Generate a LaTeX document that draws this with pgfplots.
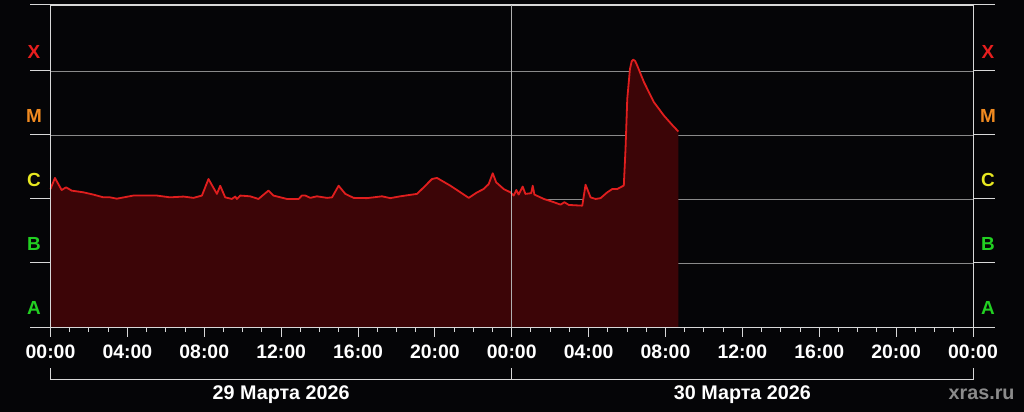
\documentclass[border=0pt]{standalone}
\usepackage{pgfplots}
\pgfplotsset{compat=1.18}
\usepackage{pgfplotstable}
\usepackage{fontspec}
\setmainfont{Liberation Sans}
\usetikzlibrary{backgrounds}
\definecolor{bg}{HTML}{050507}
\definecolor{fillred}{HTML}{3C0507}
\definecolor{linered}{HTML}{E01E1E}
\definecolor{gridgray}{HTML}{8A8A8A}
\definecolor{axwhite}{HTML}{D8D8D8}
\definecolor{midgray}{HTML}{B0B0B0}
\definecolor{labgreen}{HTML}{22D022}
\definecolor{labyellow}{HTML}{E8E820}
\definecolor{laborange}{HTML}{F08A20}
\definecolor{labred}{HTML}{E81E1E}
\definecolor{wmgray}{HTML}{8C8C8C}

\pgfplotstableread{
h flux
0.00 1.43e-6
0.23 2.13e-6
0.58 1.38e-6
0.81 1.52e-6
1.10 1.35e-6
1.71 1.27e-6
2.23 1.17e-6
2.75 1.06e-6
3.10 1.06e-6
3.45 1.01e-6
4.31 1.13e-6
5.53 1.13e-6
6.22 1.06e-6
6.92 1.09e-6
7.44 1.04e-6
7.88 1.13e-6
8.22 2.05e-6
8.66 1.20e-6
8.83 1.61e-6
9.09 1.06e-6
9.44 1.00e-6
9.61 1.09e-6
9.70 1.00e-6
9.87 1.13e-6
10.39 1.10e-6
10.82 1.00e-6
11.34 1.35e-6
11.60 1.13e-6
12.30 1.00e-6
12.91 1.00e-6
13.08 1.13e-6
13.26 1.13e-6
13.52 1.04e-6
13.86 1.10e-6
14.39 1.04e-6
14.65 1.06e-6
14.99 1.61e-6
15.34 1.20e-6
15.77 1.04e-6
16.47 1.03e-6
17.25 1.10e-6
17.68 1.03e-6
18.20 1.10e-6
19.07 1.20e-6
19.42 1.52e-6
19.85 2.05e-6
20.11 2.13e-6
20.81 1.61e-6
21.76 1.04e-6
22.20 1.27e-6
22.54 1.43e-6
22.80 1.71e-6
23.01 2.52e-6
23.19 1.82e-6
23.58 1.43e-6
23.93 1.27e-6
24.10 1.13e-6
24.24 1.38e-6
24.36 1.17e-6
24.57 1.56e-6
24.71 1.20e-6
25.01 1.23e-6
25.09 1.61e-6
25.18 1.17e-6
25.67 1.00e-6
26.19 8.90e-7
26.54 8.15e-7
26.74 8.90e-7
26.97 8.06e-7
27.67 7.86e-7
27.84 1.67e-6
28.10 1.06e-6
28.36 1.00e-6
28.62 1.03e-6
28.97 1.27e-6
29.23 1.43e-6
29.49 1.43e-6
29.83 1.62e-6
29.92 6.04e-6
30.01 3.65e-5
30.15 1.07e-4
30.24 1.41e-4
30.32 1.50e-4
30.42 1.43e-4
30.53 1.21e-4
30.88 6.66e-5
31.40 3.24e-5
31.92 2.00e-5
32.35 1.43e-5
32.67 1.13e-5
}\fluxdata

\tikzset{lab/.style={font=\fontsize{19}{21}\selectfont\bfseries},
  datelab/.style={font=\fontsize{19.8}{22}\selectfont\bfseries},
  ax/.style={axwhite, line width=1bp}}

\begin{document}
\begin{tikzpicture}
\begin{axis}[
  scale only axis,
  width=922.5bp, height=322bp,
  xmin=0, xmax=48,
  ymode=log, ymin=1e-8, ymax=1.07e-3,
  clip=false,
  axis line style={axwhite, line width=1bp},
  xtick={0,4,...,48},
  minor xtick={0,1,...,48},
  xticklabels={00:00,04:00,08:00,12:00,16:00,20:00,00:00,04:00,08:00,12:00,16:00,20:00,00:00},
  xtick pos=bottom,
  tick align=outside,
  major tick length=10bp,
  minor tick length=5bp,
  every tick/.style={axwhite, line width=1bp},
  xticklabel style={font=\fontsize{19.5}{21}\selectfont\bfseries, text=white, anchor=base, yshift=-22bp},
  ytick={1e-7,1e-6,1e-5,1e-4},
  yticklabels={},
  ytick style={draw=none},
  ymajorgrids,
  major grid style={gridgray, line width=0.8bp},
]
\addplot[fill=fillred, draw=none] table[x=h, y=flux] {\fluxdata}
  -- (axis cs:32.67,1e-8) -- (axis cs:0,1e-8) -- cycle;
\addplot[linered, line width=1.8bp, line join=round] table[x=h, y=flux] {\fluxdata};

\coordinate (SW) at (rel axis cs:0,0);
\coordinate (SE) at (rel axis cs:1,0);
\coordinate (NW) at (rel axis cs:0,1);
\coordinate (NE) at (rel axis cs:1,1);
\coordinate (MB) at (axis cs:24,1e-8);
\coordinate (MT) at (rel axis cs:0.5,1);
\coordinate (D1) at (axis cs:12,1e-8);
\coordinate (D2) at (axis cs:36,1e-8);
\coordinate (L1) at (axis cs:0,1e-7);
\coordinate (L2) at (axis cs:0,1e-6);
\coordinate (L3) at (axis cs:0,1e-5);
\coordinate (L4) at (axis cs:0,1e-4);
\coordinate (R1) at (axis cs:48,1e-7);
\coordinate (R2) at (axis cs:48,1e-6);
\coordinate (R3) at (axis cs:48,1e-5);
\coordinate (R4) at (axis cs:48,1e-4);
\coordinate (LA) at (axis cs:0,1.95e-8);
\coordinate (LB) at (axis cs:0,1.95e-7);
\coordinate (LC) at (axis cs:0,1.95e-6);
\coordinate (LM) at (axis cs:0,1.95e-5);
\coordinate (LX) at (axis cs:0,1.95e-4);
\coordinate (RA) at (axis cs:48,1.95e-8);
\coordinate (RB) at (axis cs:48,1.95e-7);
\coordinate (RC) at (axis cs:48,1.95e-6);
\coordinate (RM) at (axis cs:48,1.95e-5);
\coordinate (RX) at (axis cs:48,1.95e-4);
\end{axis}

% midnight line
\draw[midgray, line width=0.9bp] (MB) -- (MT);

% box edges and outer extensions
\draw[ax] (NW) -- (SW) -- (SE) -- (NE) -- cycle;
\foreach \p in {SW,L1,L2,L3,L4,NW} {\draw[ax] (\p) -- ++(-20.5bp,0);}
\foreach \p in {SE,R1,R2,R3,R4,NE} {\draw[ax] (\p) -- ++(22bp,0);}

% level letters
\foreach \p/\lab/\col in {A/A/labgreen, B/B/labgreen, C/C/labyellow, M/M/laborange, X/X/labred} {
  \node[lab, text=\col] at ([xshift=-16.5bp]L\p) {\lab};
  \node[lab, text=\col] at ([xshift=15bp]R\p) {\lab};
}

% date bracket
\draw[ax] ([yshift=-41bp]SW) -- ([yshift=-52bp]SW) -- ([yshift=-52bp]SE) -- ([yshift=-41bp]SE);
\draw[ax] ([yshift=-41bp]MB) -- ([yshift=-52bp]MB);
\node[anchor=base, text=white, datelab] at ([yshift=-72.5bp]D1) {29 Марта 2026};
\node[anchor=base, text=white, datelab] at ([yshift=-72.5bp]D2) {30 Марта 2026};
\node[anchor=base east, text=wmgray, datelab] at ([xshift=45bp, yshift=-72.5bp]SE) {xras.ru};

\begin{scope}[on background layer]
\fill[bg] ([shift={(-50.5bp,-85bp)}]SW) rectangle ++(1024bp,412bp);
\end{scope}
\end{tikzpicture}
\end{document}
